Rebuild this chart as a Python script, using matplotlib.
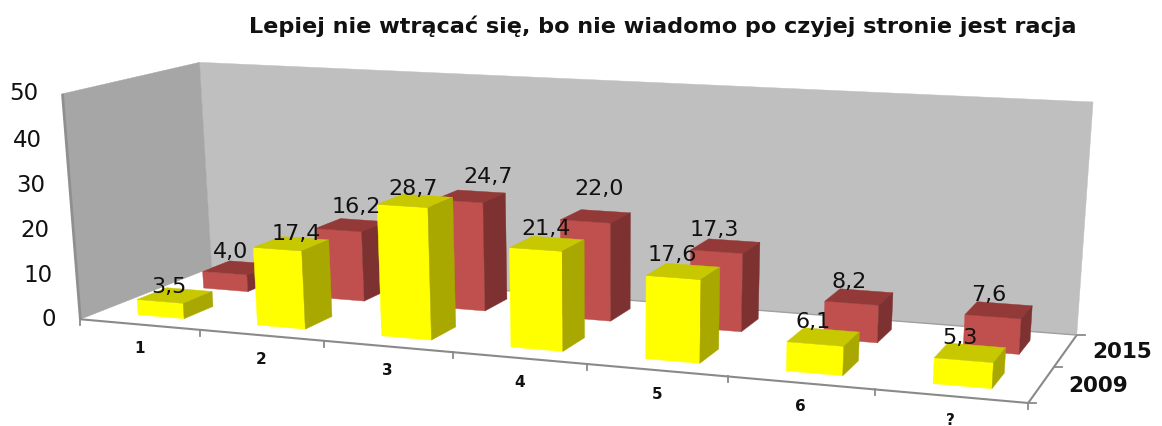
import numpy as np
import matplotlib
matplotlib.use('Agg')
import matplotlib.pyplot as plt

plt.rcParams['font.family'] = 'DejaVu Sans'

categories = ['1', '2', '3', '4', '5', '6', '?']
series_names = ['2009', '2015']
values_2009 = [3.5, 17.4, 28.7, 21.4, 17.6, 6.1, 5.3]
values_2015 = [4.0, 16.2, 24.7, 22.0, 17.3, 8.2, 7.6]
y_ticks = [0, 10, 20, 30, 40, 50]
title = 'Lepiej nie wtrącać się, bo nie wiadomo po czyjej stronie jest racja'

# colours: front, top, side
YELLOW = ('#FFFF00', '#C8C800', '#A8A800')
RED = ('#C0504D', '#933A38', '#7D3130')

# label nudges in pixels, the labels do not sit evenly over the bars
nudge_2009 = [(-4, 5), (7, 4), (0, 1), (2, -1), (-8, -3), (-8, -2), (-7, -1)]
nudge_2015 = [(-5, -3), (8, -5), (20, -6), (6, -14), (-9, -3), (-7, -2), (-7, -2)]

### camera: fit a projection from the corners of the chart box

n_cat = len(categories)
n_ser = len(series_names)
ymax = y_ticks[-1]

box = [((0, 0, 0), (81, 320)), ((n_cat, 0, 0), (1028, 403)),
       ((n_cat, n_ser, 0), (1077, 335)), ((0, n_ser, 0), (211, 267)),
       ((0, 0, ymax), (62, 93)), ((0, n_ser, ymax), (200, 63)),
       ((n_cat, n_ser, ymax), (1093, 102))]

rows = []
for (X, Y, Z), (u, v) in box:
    rows.append([X, Y, Z, 1, 0, 0, 0, 0, -u*X, -u*Y, -u*Z, -u])
    rows.append([0, 0, 0, 0, X, Y, Z, 1, -v*X, -v*Y, -v*Z, -v])
P = np.linalg.svd(np.array(rows, dtype=float))[2][-1].reshape(3, 4)

def project(x, d, z):
    h = P @ np.array([x, d, z, 1.0])
    return h[0]/h[2], h[1]/h[2]

fig = plt.figure(figsize=(11.62, 4.26), dpi=100)
ax = fig.add_axes([0, 0, 1, 1])
ax.set_xlim(0, 1162)
ax.set_ylim(426, 0)
ax.axis('off')

def face(corners, color, z=1):
    pts = [project(*c) for c in corners]
    ax.fill([p[0] for p in pts], [p[1] for p in pts], color=color, lw=0.3, zorder=z)

def seg(a, b, color='#8A8A8A', lw=1.5, z=3):
    pa, pb = project(*a), project(*b)
    ax.plot([pa[0], pb[0]], [pa[1], pb[1]], color=color, lw=lw, zorder=z, solid_capstyle='butt')

### walls

face([(0, n_ser, 0), (n_cat, n_ser, 0), (n_cat, n_ser, ymax), (0, n_ser, ymax)], '#BFBFBF')
face([(0, 0, 0), (0, n_ser, 0), (0, n_ser, ymax), (0, 0, ymax)], '#A6A6A6')
seg((0, 0, 0), (0, 0, ymax), '#8F8F8F', 2)

### axis lines and ticks

seg((0, 0, 0), (n_cat, 0, 0))
seg((n_cat, 0, 0), (n_cat, n_ser, 0))
seg((0, n_ser, 0), (n_cat, n_ser, 0), '#A0A0A0', 1)
for i in range(n_cat + 1):
    x0, y0 = project(i, 0, 0)
    ax.plot([x0, x0], [y0, y0 + 6], color='#8A8A8A', lw=1.3, zorder=3)
for j in range(n_ser + 1):
    x0, y0 = project(n_cat, j, 0)
    ax.plot([x0, x0 + 8], [y0, y0], color='#8A8A8A', lw=1.3, zorder=3)

### bars, back row first

bar_left = 0.175
bar_right = 0.215
bar_d = 0.22

def bar(i, j, val, colors, label, nudge):
    x0, x1 = i + 0.5 - bar_left, i + 0.5 + bar_right
    d0, d1 = j + 0.5 - bar_d, j + 0.5 + bar_d
    z = 5 + (n_ser - j)*10
    face([(x0, d0, 0), (x1, d0, 0), (x1, d0, val), (x0, d0, val)], colors[0], z)
    face([(x0, d0, val), (x1, d0, val), (x1, d1, val), (x0, d1, val)], colors[1], z)
    face([(x1, d0, 0), (x1, d1, 0), (x1, d1, val), (x1, d0, val)], colors[2], z)
    lx, ly = project(i + 0.5, j + 0.5, val)
    ax.text(lx + nudge[0], ly - 13 + nudge[1], label, ha='center', va='center',
            fontsize=16, color='#111111', zorder=40)

rows_data = [(values_2009, YELLOW, nudge_2009), (values_2015, RED, nudge_2015)]
for j, (vals, colors, nudges) in reversed(list(enumerate(rows_data))):
    for i, val in enumerate(vals):
        bar(i, j, val, colors, ('%.1f' % val).replace('.', ','), nudges[i])

### text

for t in y_ticks:
    x0, y0 = project(0, 0, t)
    ax.text(x0 - 24, y0, str(t), ha='right', va='center', fontsize=16.5, color='#111111')

for i, c in enumerate(categories):
    x0, y0 = project(i + 0.5, 0, 0)
    ax.text(x0, y0 + 24, c, ha='center', va='center', fontsize=11,
            fontweight='bold', color='#111111')

for j, s in enumerate(series_names):
    x0, y0 = project(n_cat, j + 0.5, 0)
    ax.text(x0 + 27, y0 + 1, s, ha='left', va='center', fontsize=15.5,
            fontweight='bold', color='#111111')

ax.text(663, 26, title, ha='center', va='center', fontsize=16.1,
        fontweight='bold', color='#111111')

fig.savefig('out.png', dpi=100)
